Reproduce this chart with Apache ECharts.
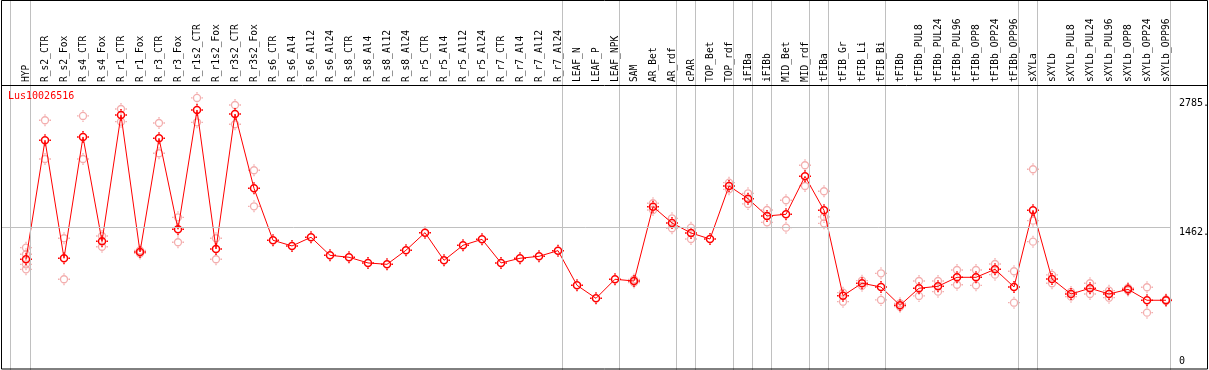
<!DOCTYPE html>
<html>
<head>
<meta charset="utf-8">
<script src="https://cdn.jsdelivr.net/npm/echarts@6/dist/echarts.min.js"></script>
<style>
html, body { margin: 0; padding: 0; background: #fff; }
#chart { width: 1209px; height: 370px; }
</style>
</head>
<body>
<div id="chart"></div>
<script>
var geneName = 'Lus10026516';

var categories = [
    'HYP', 'R_s2_CTR', 'R_s2_Fox', 'R_s4_CTR', 'R_s4_Fox', 'R_r1_CTR', 'R_r1_Fox',
    'R_r3_CTR', 'R_r3_Fox', 'R_r1s2_CTR', 'R_r1s2_Fox', 'R_r3s2_CTR', 'R_r3s2_Fox',
    'R_s6_CTR', 'R_s6_Al4', 'R_s6_Al12', 'R_s6_Al24', 'R_s8_CTR', 'R_s8_Al4', 'R_s8_Al12',
    'R_s8_Al24', 'R_r5_CTR', 'R_r5_Al4', 'R_r5_Al12', 'R_r5_Al24', 'R_r7_CTR', 'R_r7_Al4',
    'R_r7_Al12', 'R_r7_Al24', 'LEAF_N', 'LEAF_P', 'LEAF_NPK', 'SAM', 'AR_Bet', 'AR_rdf',
    'cPAR', 'TOP_Bet', 'TOP_rdf', 'iFIBa', 'iFIBb', 'MID_Bet', 'MID_rdf', 'tFIBa',
    'tFIB_Gr', 'tFIB_Li', 'tFIB_Bi', 'tFIBb', 'tFIBb_PUL8', 'tFIBb_PUL24', 'tFIBb_PUL96',
    'tFIBb_OPP8', 'tFIBb_OPP24', 'tFIBb_OPP96', 'sXYLa', 'sXYLb', 'sXYLb_PUL8',
    'sXYLb_PUL24', 'sXYLb_PUL96', 'sXYLb_OPP8', 'sXYLb_OPP24', 'sXYLb_OPP96'
];

// mean expression per sample (red line)
var means = [
    1134, 2352, 1144, 2386, 1318, 2611, 1208, 2372, 1441, 2662, 1239, 2621, 1860,
    1328, 1270, 1359, 1174, 1154, 1096, 1082, 1226, 1406, 1123, 1277, 1338, 1096, 1144, 1164, 1222,
    867, 734, 929, 911, 1672, 1505, 1403, 1341, 1884, 1754, 1577, 1594, 1983, 1635,
    761, 888, 850, 662, 837, 857, 949, 949, 1031, 850, 1635, 932, 778, 837, 778, 826, 714, 714
];

// single replicates (pink circles)
var replicates = [
    [1252, 1185, 1082, 1031], [2557, 2160], [1349, 929], [2601, 2160], [1372, 1262],
    [2672, 2542], [1224, 1193], [2529, 2219], [1563, 1308], [2785, 2536], [1349, 1134],
    [2713, 2516], [2045, 1676],
    [], [], [], [], [], [], [], [], [], [], [], [], [], [], [], [], [], [], [],
    [927, 896], [1707, 1638], [1553, 1451], [1457, 1341], [], [1918, 1850], [1809, 1700],
    [1638, 1512], [1738, 1457], [2096, 1884], [1830, 1567, 1502],
    [792, 699], [914, 862], [990, 717], [683, 648], [911, 758], [911, 802], [1024, 873],
    [1024, 867], [1085, 976], [1011, 689], [2055, 1529, 1314], [973, 888], [799, 751],
    [888, 778], [812, 740], [840, 814], [847, 587], [722, 707]
];

// group separators come right after these samples
var groupBreaks = [0, 28, 31, 34, 35, 37, 38, 39, 41, 42, 45, 52, 53, 60];
var refLine = 1462;
var topLabels = [1462, 2785];
var bottomLabels = [0];

var xMin = -25 / 19, xMax = 1182 / 19, yMax = 3788;
var headerLine = 2918; // border between sample names and plot
var mono = 'DejaVu Sans Mono';
var ring = 'path://M0,-6L0,-4.5M0,4.5L0,6M-6,0L-4.5,0M4.5,0L6,0M3.5,0A3.5,3.5,0,1,1,-3.5,0A3.5,3.5,0,1,1,3.5,0Z';

var meanPoints = means.map(function (v, i) { return [i, v]; });
var repPoints = [];
replicates.forEach(function (vals, i) {
    vals.forEach(function (v) { repPoints.push([i, v]); });
});

var lastSep = groupBreaks[groupBreaks.length - 1] + 0.24;
var sepLines = [{ xAxis: -0.83 }];
groupBreaks.forEach(function (i) { sepLines.push({ xAxis: i + 0.24 }); });
sepLines.push([{ coord: [xMin, refLine] }, { coord: [lastSep, refLine] }]);
sepLines.push({ yAxis: headerLine, lineStyle: { color: '#000', width: 1, type: 'solid' } });

var myChart = echarts.init(document.getElementById('chart'), null, { renderer: 'canvas' });
var option = {
    animation: false,
    backgroundColor: '#fff',
    title: {
        text: geneName,
        left: 8,
        top: 91,
        padding: 0,
        textStyle: { color: '#f00', fontFamily: mono, fontSize: 10, fontWeight: 'normal' }
    },
    grid: { left: 1, right: 1, top: 0, bottom: 0, outerBoundsMode: 'none' },
    xAxis: [{
        type: 'value',
        min: xMin,
        max: xMax,
        show: false
    }, {
        type: 'value',
        min: xMin,
        max: xMax,
        position: 'top',
        offset: -85,
        axisLine: { show: false },
        axisTick: { show: false },
        splitLine: { show: false },
        axisLabel: {
            customValues: categories.map(function (c, i) { return i; }),
            rotate: 90,
            margin: 3,
            color: '#000',
            fontFamily: mono,
            fontSize: 9.6,
            formatter: function (v) { return categories[v] || ''; }
        }
    }],
    yAxis: [{
        type: 'value',
        min: 0,
        max: yMax,
        position: 'right',
        offset: -29,
        axisLine: { show: false },
        axisTick: { show: false },
        splitLine: { show: false },
        axisLabel: {
            customValues: topLabels,
            margin: 0,
            verticalAlign: 'top',
            color: '#000',
            fontFamily: mono,
            fontSize: 10,
            formatter: function (v) { return v + '.'; }
        }
    }, {
        type: 'value',
        min: 0,
        max: yMax,
        position: 'right',
        offset: -29,
        axisLine: { show: false },
        axisTick: { show: false },
        splitLine: { show: false },
        axisLabel: {
            customValues: bottomLabels,
            margin: 0,
            verticalAlign: 'bottom',
            padding: [0, 0, 4, 0],
            color: '#000',
            fontFamily: mono,
            fontSize: 10
        }
    }],
    graphic: [{
        type: 'rect',
        shape: { x: 1.5, y: 0.5, width: 1206, height: 368.5 },
        style: { fill: null, stroke: '#000', lineWidth: 1 },
        silent: true,
        z: 100
    }],
    series: [{
        type: 'line',
        data: [],
        z: 1,
        markLine: {
            silent: true,
            symbol: 'none',
            animation: false,
            label: { show: false },
            emphasis: { disabled: true },
            lineStyle: { color: '#c0c0c0', width: 1, type: 'solid' },
            data: sepLines
        }
    }, {
        name: 'replicates',
        type: 'scatter',
        data: repPoints,
        z: 2,
        symbol: ring,
        symbolSize: 12,
        itemStyle: { color: 'rgba(0,0,0,0)', borderColor: '#f09a9a', borderWidth: 1.3 },
        emphasis: { disabled: true }
    }, {
        name: 'mean',
        type: 'line',
        data: meanPoints,
        z: 3,
        symbol: ring,
        symbolSize: 12,
        showAllSymbol: true,
        lineStyle: { color: '#f00', width: 1 },
        itemStyle: { color: 'rgba(0,0,0,0)', borderColor: '#f00', borderWidth: 1.5 },
        emphasis: { disabled: true }
    }]
};
myChart.setOption(option);
</script>
</body>
</html>
